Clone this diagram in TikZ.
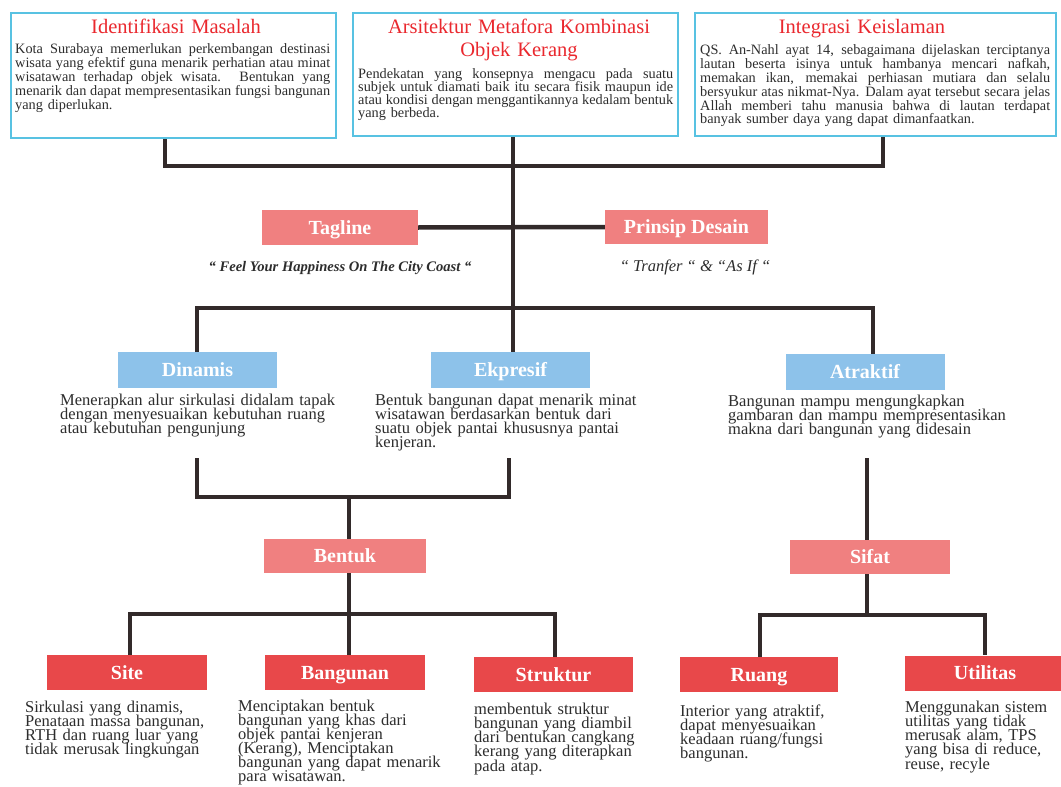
\documentclass[tikz,border=0pt]{standalone}
\usepackage{fontspec}
\setmainfont{Liberation Serif}
\definecolor{boxblue}{RGB}{88,194,226}
\definecolor{titlered}{RGB}{234,40,46}
\definecolor{pinkfill}{RGB}{240,128,128}
\definecolor{bluefill}{RGB}{141,194,234}
\definecolor{redfill}{RGB}{232,72,74}
\definecolor{linec}{RGB}{50,42,42}
\definecolor{textc}{RGB}{45,45,45}
\newcommand\jl[2]{{\spaceskip=0pt\xspaceskip=0pt\makebox[#1][s]{#2}}\\}
\newcommand\tightl{\lineskiplimit-20pt\relax}
\begin{document}
\begin{tikzpicture}[x=1pt,y=-1pt,
  topbox/.style={draw=boxblue,line width=2pt,fill=white,anchor=north west,inner sep=0pt},
  ttl/.style={text=titlered,inner sep=0pt,anchor=base,align=center,text width=340pt,
    font=\fontsize{20.5}{22}\selectfont},
  tbody/.style={text=textc,inner sep=0pt,anchor=base west,align=left,
    font=\fontsize{14.3}{14}\selectfont\tightl},
  lab/.style={inner sep=0pt,text=white,minimum height=35pt,minimum width=160pt,
    text height=13.5pt,text depth=0pt,
    font=\fontsize{20}{20}\selectfont\bfseries},
  pinklab/.style={lab,fill=pinkfill},
  bluelab/.style={lab,fill=bluefill},
  redlab/.style={lab,fill=redfill},
  ltext/.style={text=textc,inner sep=0pt,anchor=base west,align=left,
    font=\fontsize{16.5}{14.3}\selectfont\tightl},
  quote/.style={text=textc,inner sep=0pt,anchor=base},
  bar/.style={draw=linec,line width=4.5pt,line join=miter},
  stem/.style={draw=linec,line width=3.2pt}
]
\useasboundingbox (0,0) rectangle (1061,787);
\fill[white] (0,0) rectangle (1061,787);

% ---------- top boxes ----------
\node[topbox,minimum width=325pt,minimum height=125pt] (m1) at (10,12) {};
\node[topbox,minimum width=325pt,minimum height=123pt] (m2) at (352,12) {};
\node[topbox,minimum width=361pt,minimum height=123pt] (m3) at (694,12) {};

\node[ttl] (m1t) at (176,34) {Identifikasi Masalah};
\node[ttl] (m2t) at (519,34) {Arsitektur Metafora Kombinasi\\Objek Kerang};
\node[ttl] (m3t) at (862,34) {Integrasi Keislaman};

\node[tbody,text width=315pt] (m1b) at (15,53) {%
\jl{315pt}{Kota Surabaya memerlukan perkembangan destinasi}%
\jl{315pt}{wisata yang efektif guna menarik perhatian atau minat}%
\jl{315pt}{wisatawan terhadap objek wisata. Bentukan yang}%
\jl{315pt}{menarik dan dapat mempresentasikan fungsi bangunan}%
yang diperlukan.};

\node[tbody,text width=315pt,font=\fontsize{14.3}{13.3}\selectfont\tightl] (m2b) at (358,78) {%
\jl{315pt}{Pendekatan yang konsepnya mengacu pada suatu}%
\jl{315pt}{subjek untuk diamati baik itu secara fisik maupun ide}%
\jl{315pt}{atau kondisi dengan menggantikannya kedalam bentuk}%
yang berbeda.};

\node[tbody,text width=350pt] (m3b) at (700,54) {%
\jl{350pt}{QS. An-Nahl ayat 14, sebagaimana dijelaskan terciptanya}%
\jl{350pt}{lautan beserta isinya untuk hambanya mencari nafkah,}%
\jl{350pt}{memakan ikan, memakai perhiasan mutiara dan selalu}%
\jl{350pt}{bersyukur atas nikmat-Nya. Dalam ayat tersebut secara jelas}%
\jl{350pt}{Allah memberi tahu manusia bahwa di lautan terdapat}%
banyak sumber daya yang dapat dimanfaatkan.};

% ---------- tagline / prinsip ----------
\node[pinklab,minimum width=156pt] (tag) at (340,227.5) {Tagline};
\node[pinklab,minimum width=163pt,minimum height=34pt] (pri) at (686.5,227) {Prinsip Desain};
\node[quote,font=\fontsize{14.6}{16}\selectfont\bfseries\itshape] (tq) at (340,271) {“ Feel Your Happiness On The City Coast “};
\node[quote,font=\fontsize{16.5}{18}\selectfont\itshape] (pq) at (695,271) {“ Tranfer “ \& “As If “};

% ---------- level 2 ----------
\node[bluelab,minimum width=159pt,minimum height=36pt] (din) at (197.5,370) {Dinamis};
\node[bluelab,minimum width=159pt,minimum height=36pt] (eks) at (510.5,370) {Ekpresif};
\node[bluelab,minimum width=159pt,minimum height=36pt] (atr) at (865,372) {Atraktif};

\node[ltext,text width=285pt] (dint) at (60,405) {Menerapkan alur sirkulasi didalam tapak\\dengan menyesuaikan kebutuhan ruang\\atau kebutuhan pengunjung};
\node[ltext,text width=275pt] (ekst) at (375,405) {Bentuk bangunan dapat menarik minat\\wisatawan berdasarkan bentuk dari\\suatu objek pantai khususnya pantai\\kenjeran.};
\node[ltext,text width=295pt] (atrt) at (728,406) {Bangunan mampu mengungkapkan\\gambaran dan mampu mempresentasikan\\makna dari bangunan yang didesain};

% ---------- level 3 ----------
\node[pinklab,minimum width=162pt,minimum height=34pt] (ben) at (345,556) {Bentuk};
\node[pinklab,minimum width=160pt,minimum height=34pt] (sif) at (870,557) {Sifat};

% ---------- level 4 ----------
\node[redlab] (site) at (127,672.5) {Site};
\node[redlab] (bang) at (345,672.5) {Bangunan};
\node[redlab,minimum width=159pt] (str) at (553.5,674.5) {Struktur};
\node[redlab,minimum width=158pt] (ru) at (759,674.5) {Ruang};
\node[redlab] (ut) at (985,673) {Utilitas};

\node[ltext,text width=190pt] (sitet) at (25,712) {Sirkulasi yang dinamis,\\Penataan massa bangunan,\\RTH dan ruang luar yang\\tidak merusak lingkungan};
\node[ltext,text width=212pt,font=\fontsize{16.5}{14.1}\selectfont\tightl] (bangt) at (238,711) {Menciptakan bentuk\\bangunan yang khas dari\\objek pantai kenjeran\\(Kerang), Menciptakan\\bangunan yang dapat menarik\\para wisatawan.};
\node[ltext,text width=170pt] (strt) at (474,714) {membentuk struktur\\bangunan yang diambil\\dari bentukan cangkang\\kerang yang diterapkan\\pada atap.};
\node[ltext,text width=160pt] (rut) at (680,716) {Interior yang atraktif,\\dapat menyesuaikan\\keadaan ruang/fungsi\\bangunan.};
\node[ltext,text width=150pt] (utt) at (905,712) {Menggunakan sistem\\utilitas yang tidak\\merusak alam, TPS\\yang bisa di reduce,\\reuse, recyle};

% ---------- connectors ----------
\coordinate (h1l) at (165,166);
\coordinate (h1r) at (883,166);
\draw[bar] (m1.south -| h1l) -- (h1l) -- (h1r) -- (m3.south -| h1r);
\coordinate (c2) at (513,308);
\draw[stem] (m2.south -| c2) -- (c2);
\draw[bar] (tag.east) -- (pri.west);
\coordinate (l2l) at (197,308);
\coordinate (l2r) at (873,308);
\draw[bar] (din.north -| l2l) -- (l2l) -- (l2r) -- (atr.north -| l2r);
\draw[stem] (c2) -- (eks.north -| c2);

\coordinate (bl) at (197,458);
\coordinate (br) at (509,458);
\coordinate (bh) at (349,497);
\draw[bar] (bl) -- (bl |- bh) -- (br |- bh) -- (br);
\draw[stem] (bh) -- (ben.north -| bh);

\coordinate (l3) at (349,614);
\coordinate (l3l) at (130,614);
\coordinate (l3r) at (555,614);
\draw[stem] (ben.south -| l3) -- (bang.north -| l3);
\draw[bar] (site.north -| l3l) -- (l3l) -- (l3r) -- (str.north -| l3r);

\coordinate (s1) at (867,458);
\coordinate (s2) at (867,615);
\draw[stem] (s1) -- (sif.north -| s1);
\draw[stem] (sif.south -| s2) -- (s2);
\coordinate (r3l) at (760,615);
\coordinate (r3r) at (985,615);
\draw[bar] (ru.north -| r3l) -- (r3l) -- (r3r) -- (ut.north -| r3r);
\end{tikzpicture}
\end{document}
